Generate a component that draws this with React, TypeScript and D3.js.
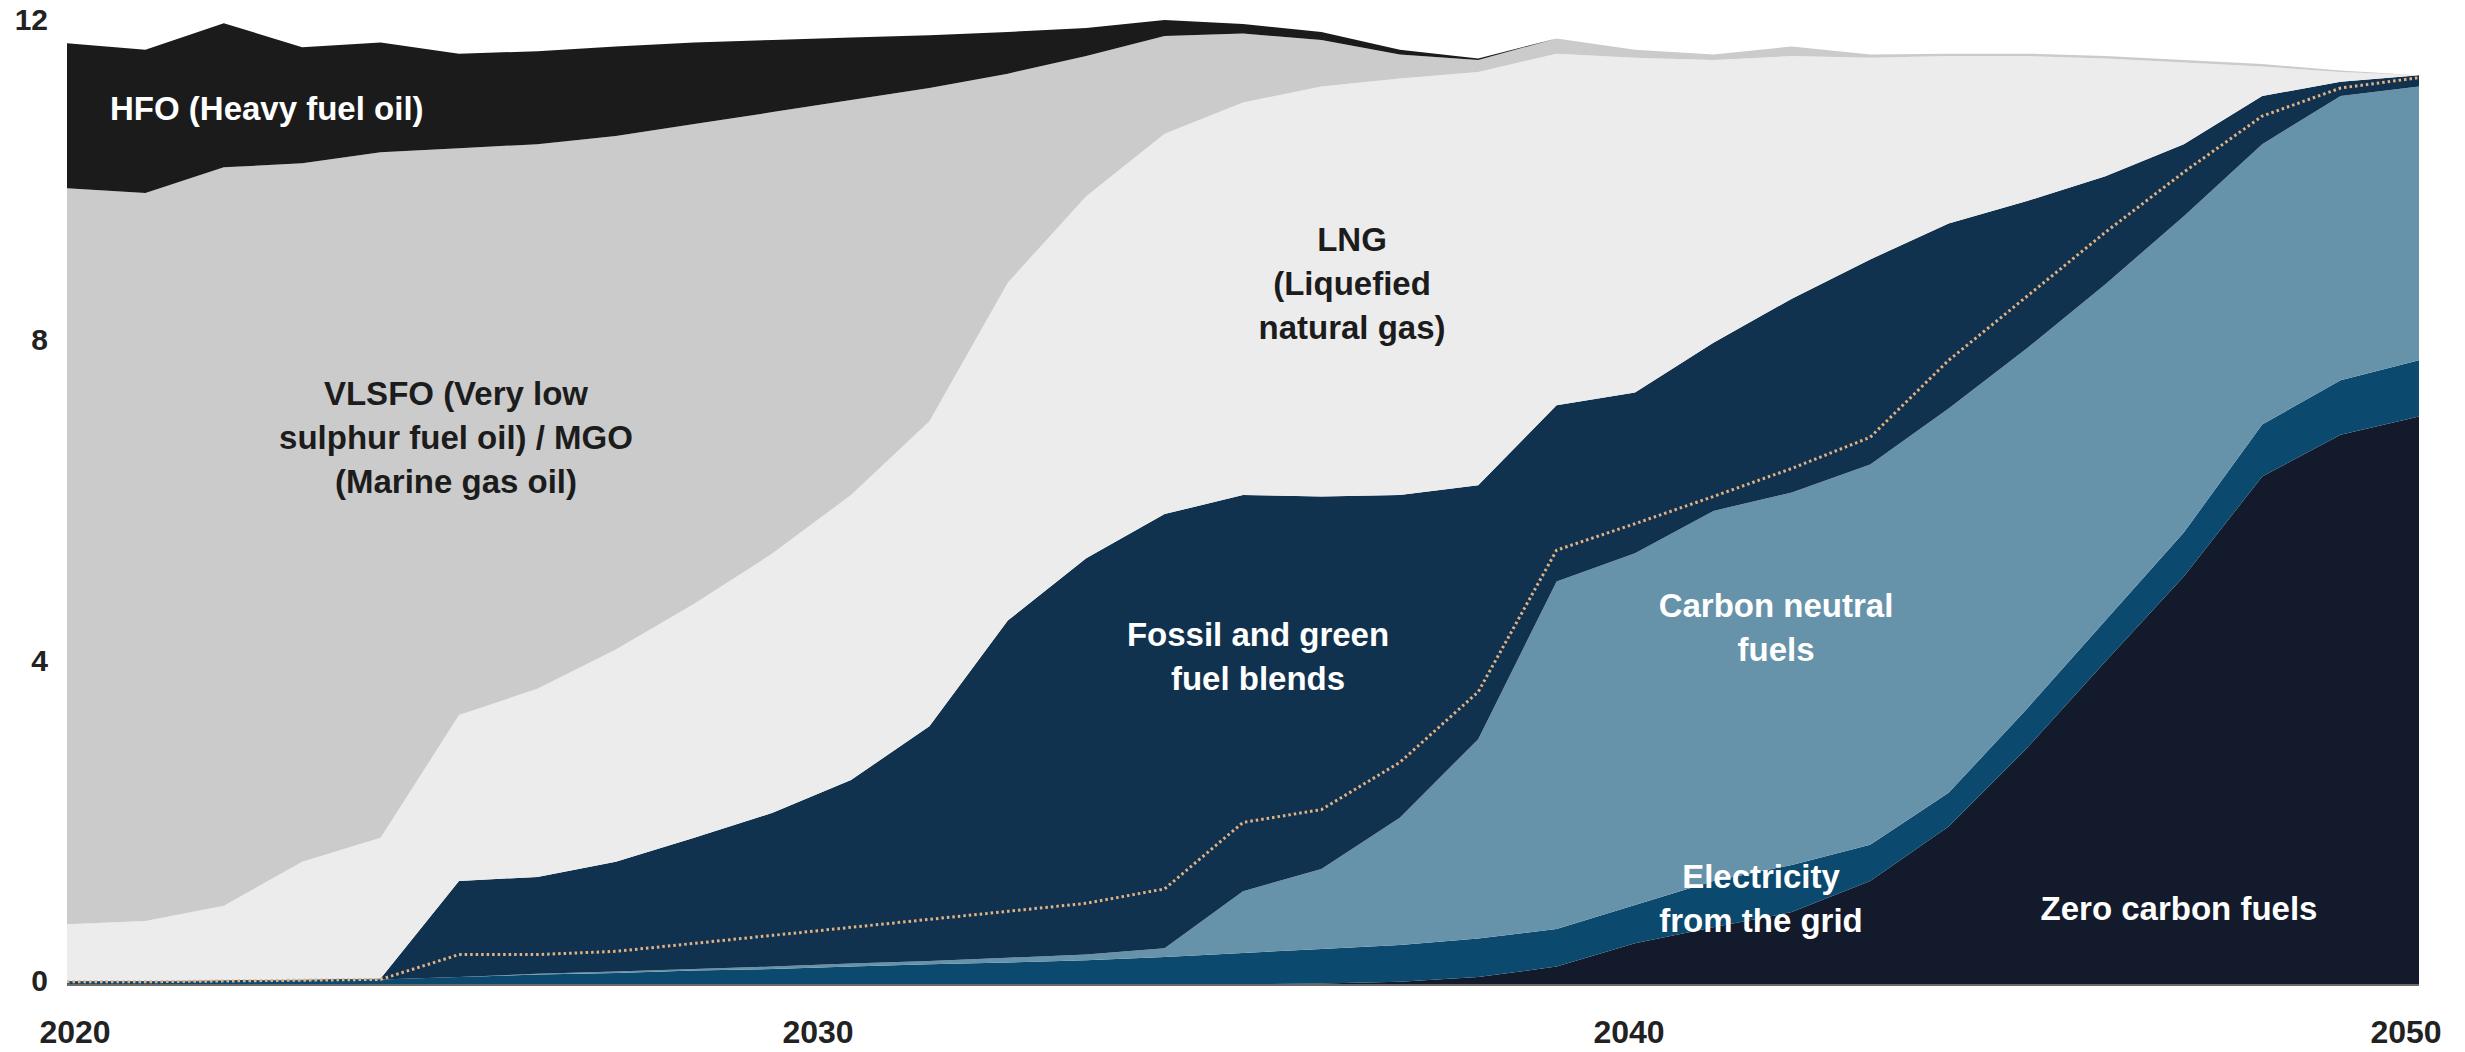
import React from 'react';
import * as d3 from 'd3';

// ---------- DATA ----------
const years = [2020, 2021, 2022, 2023, 2024, 2025, 2026, 2027, 2028, 2029, 2030, 2031, 2032, 2033, 2034, 2035, 2036, 2037, 2038, 2039, 2040, 2041, 2042, 2043, 2044, 2045, 2046, 2047, 2048, 2049, 2050];

const zeroCarbon = [0, 0, 0, 0, 0, 0, 0, 0, 0, 0, 0, 0, 0, 0, 0, 0.01, 0.02, 0.04, 0.1, 0.23, 0.52, 0.72, 0.91, 1.3, 1.98, 2.96, 4.04, 5.1, 6.35, 6.87, 7.1];
const electricity = [0.04, 0.04, 0.05, 0.06, 0.07, 0.1, 0.13, 0.15, 0.18, 0.2, 0.23, 0.26, 0.28, 0.31, 0.35, 0.39, 0.43, 0.46, 0.48, 0.47, 0.48, 0.58, 0.59, 0.45, 0.42, 0.49, 0.51, 0.55, 0.65, 0.68, 0.7];
const carbonNeutral = [0, 0, 0, 0, 0, 0, 0.01, 0.02, 0.02, 0.03, 0.04, 0.04, 0.06, 0.07, 0.11, 0.77, 1.0, 1.59, 2.49, 4.34, 4.39, 4.62, 4.65, 4.75, 4.8, 4.5, 4.2, 3.95, 3.5, 3.55, 3.42];
const fossilBlends = [0.01, 0.01, 0.01, 0.01, 0.01, 1.2, 1.21, 1.37, 1.64, 1.92, 2.29, 2.93, 4.21, 4.95, 5.42, 4.95, 4.65, 4.03, 3.17, 2.2, 2.01, 2.1, 2.42, 2.56, 2.31, 1.84, 1.35, 0.9, 0.6, 0.18, 0.14];
const lng = [0.71, 0.75, 0.93, 1.47, 1.76, 2.07, 2.35, 2.65, 2.92, 3.24, 3.56, 3.81, 4.22, 4.52, 4.75, 4.9, 5.12, 5.2, 5.16, 4.39, 4.18, 3.53, 3.03, 2.52, 2.09, 1.81, 1.47, 1.02, 0.37, 0.12, 0];
const vlsfo = [9.19, 9.09, 9.22, 8.72, 8.56, 7.08, 6.8, 6.41, 5.99, 5.51, 4.93, 4.16, 2.61, 1.75, 1.22, 0.86, 0.58, 0.3, 0.15, 0.19, 0.1, 0.07, 0.12, 0.04, 0.03, 0.03, 0.03, 0.03, 0.03, 0.02, 0];
const hfo = [1.81, 1.79, 1.8, 1.45, 1.37, 1.18, 1.16, 1.12, 1.02, 0.9, 0.78, 0.66, 0.52, 0.35, 0.2, 0.12, 0.1, 0.06, 0.02, 0, 0, 0, 0, 0, 0, 0, 0, 0, 0, 0, 0];

// dotted divider inside the fuel-blend band (cumulative level)
const blendDivider = [0.04, 0.04, 0.05, 0.06, 0.07, 0.38, 0.38, 0.42, 0.52, 0.62, 0.72, 0.82, 0.92, 1.02, 1.2, 2.03, 2.19, 2.78, 3.66, 5.43, 5.76, 6.1, 6.45, 6.84, 7.8, 8.6, 9.4, 10.15, 10.85, 11.2, 11.33];

const yTicks = [0, 4, 8, 12];
const xTicks = [2020, 2030, 2040, 2050];

const seriesKeys = ['zero', 'elec', 'cn', 'fossil', 'lng', 'vlsfo', 'hfo'];
const seriesColors: Record<string, string> = {
  zero: '#131a2b',
  elec: '#0b4a6e',
  cn: '#6793aa',
  fossil: '#11324e',
  lng: '#ececec',
  vlsfo: '#cbcbcb',
  hfo: '#1b1b1b',
};

type Label = { lines: string[]; x: number; y: number; color: string; anchor: string };

const W = 2465;
const H = 1052;

export default function App() {
  const rows = years.map((year, i) => ({
    year,
    zero: zeroCarbon[i],
    elec: electricity[i],
    cn: carbonNeutral[i],
    fossil: fossilBlends[i],
    lng: lng[i],
    vlsfo: vlsfo[i],
    hfo: hfo[i],
  }));

  const x = d3.scaleLinear().domain([2020, 2050]).range([67, 2419]);
  const y = d3.scaleLinear().domain([0, 12]).range([985, 24]);

  const stack = d3.stack<any>().keys(seriesKeys);
  const stacked = stack(rows);

  const area = d3
    .area<any>()
    .x((d) => x(d.data.year))
    .y0((d) => y(d[0]))
    .y1((d) => y(d[1]))
    .curve(d3.curveLinear);

  const divider = d3
    .line<number>()
    .x((_, i) => x(years[i]))
    .y((d) => y(d))
    .curve(d3.curveLinear);

  const font = '"Liberation Sans", Arial, Helvetica, sans-serif';

  const labels: Label[] = [
    { lines: ['HFO (Heavy fuel oil)'], x: 110, y: 120, color: '#ffffff', anchor: 'start' },
    { lines: ['VLSFO (Very low', 'sulphur fuel oil) / MGO', '(Marine gas oil)'], x: 456, y: 405, color: '#1c1c1c', anchor: 'middle' },
    { lines: ['LNG', '(Liquefied', 'natural gas)'], x: 1352, y: 251, color: '#1c1c1c', anchor: 'middle' },
    { lines: ['Fossil and green', 'fuel blends'], x: 1258, y: 646, color: '#ffffff', anchor: 'middle' },
    { lines: ['Carbon neutral', 'fuels'], x: 1776, y: 617, color: '#ffffff', anchor: 'middle' },
    { lines: ['Electricity', 'from the grid'], x: 1761, y: 888, color: '#ffffff', anchor: 'middle' },
    { lines: ['Zero carbon fuels'], x: 2179, y: 920, color: '#ffffff', anchor: 'middle' },
  ];

  return (
    <svg
      width={W}
      height={H}
      viewBox={`0 0 ${W} ${H}`}
      style={{ position: 'absolute', left: 0, top: 0, background: '#ffffff' }}
    >
      <rect x={0} y={0} width={W} height={H} fill="#ffffff" />
      {stacked.map((s) => (
        <path key={s.key} d={area(s as any) || ''} fill={seriesColors[s.key]} stroke="none" />
      ))}
      <path
        d={divider(blendDivider) || ''}
        fill="none"
        stroke="#e2b283"
        strokeWidth={3}
        strokeDasharray="2.5 3"
      />
      <line x1={x(2020)} x2={x(2050)} y1={y(0)} y2={y(0)} stroke="#6a6a6a" strokeWidth={2} />

      {yTicks.map((t) => (
        <text
          key={'y' + t}
          x={48}
          y={y(t) + 6}
          textAnchor="end"
          fontFamily={font}
          fontWeight={700}
          fontSize={30}
          fill="#222222"
        >
          {t}
        </text>
      ))}
      {xTicks.map((t) => (
        <text
          key={'x' + t}
          x={x(t) + (t === 2020 ? 8 : t === 2050 ? -13 : t === 2030 ? -33 : -6)}
          y={1043}
          textAnchor="middle"
          fontFamily={font}
          fontWeight={700}
          fontSize={32}
          fill="#222222"
        >
          {t}
        </text>
      ))}

      {labels.map((l, i) => (
        <text
          key={'l' + i}
          x={l.x}
          y={l.y}
          textAnchor={l.anchor as any}
          fontFamily={font}
          fontWeight={700}
          fontSize={33}
          fill={l.color}
        >
          {l.lines.map((ln, j) => (
            <tspan key={j} x={l.x} dy={j === 0 ? 0 : 44}>
              {ln}
            </tspan>
          ))}
        </text>
      ))}
    </svg>
  );
}
